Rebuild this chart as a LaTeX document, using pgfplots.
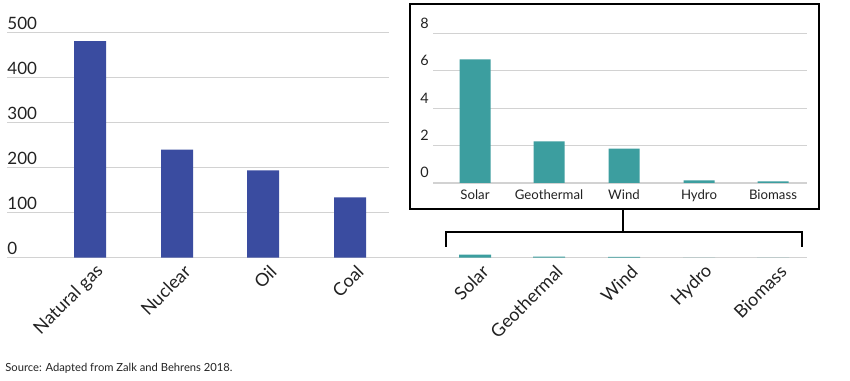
\documentclass[border=0pt]{standalone}
\usepackage{fontspec}
\setmainfont{Lato}
\usepackage{pgfplots}
\pgfplotsset{compat=1.18}
\definecolor{barblue}{HTML}{3A4CA0}
\definecolor{barteal}{HTML}{3C9E9F}
\definecolor{gridgray}{HTML}{D2D2D2}
\definecolor{txt}{HTML}{222222}
\begin{document}
\begin{tikzpicture}
\useasboundingbox (0,0) rectangle (425pt,190pt);
% ---------- main axis ----------
\begin{axis}[
  at={(3.5pt,61.15pt)}, anchor=south west,
  x=0.5pt, y=0.225pt,
  xmin=7, xmax=807, ymin=0, ymax=560,
  clip=false,
  axis line style={draw=none},
  major tick length=0,
  /pgf/number format/assume math mode=true,
  ytick={0,100,200,300,400,500},
  yticklabel style={anchor=south west, inner sep=0pt, yshift=1.5pt, font=\fontsize{8.5}{10}\selectfont, text=txt},
  xtick={90,177,263,350,475,549,624,699,773},
  xticklabels={Natural gas,Nuclear,Oil,Coal,Solar,Geothermal,Wind,Hydro,Biomass},
  xticklabel style={rotate=45, anchor=east, inner sep=0pt, xshift=0pt, yshift=-7.5pt, font=\fontsize{9}{10}\selectfont, text=txt},
]
% grid lines
\foreach \v in {100,200,300,400,500}{
  \edef\temp{\noexpand\draw[gridgray, line width=0.6pt] (axis cs:7,\v) -- (axis cs:389,\v);}
  \temp
}
\draw[gridgray, line width=0.7pt] (axis cs:7,0) -- (axis cs:807,0);
\addplot[ybar, bar width=16pt, bar shift=0pt, fill=barblue, draw=none] coordinates {(90,481) (177,240) (263,194) (350,134)};
\addplot[ybar, bar width=16pt, bar shift=0pt, fill=barteal, draw=none] coordinates {(475,6.6) (549,2.23) (624,1.83) (699,0.14) (773,0.09)};
% bracket
\draw[black, line width=1pt] (axis cs:446,24.4) -- (axis cs:446,56.4) -- (axis cs:802,56.4) -- (axis cs:802,24.4);
\draw[black, line width=1pt] (axis cs:623,56.4) -- (axis cs:623,108.2);
\end{axis}
% ---------- inset axis ----------
\begin{axis}[
  at={(205pt,85.5pt)}, anchor=south west,
  x=0.5pt, y=9.36pt,
  xmin=410, xmax=819, ymin=-1.389, ymax=9.546,
  clip=false,
  axis background/.style={fill=white},
  axis line style={line width=1.2pt, black},
  major tick length=0,
  /pgf/number format/assume math mode=true,
  ytick={0,2,4,6,8},
  yticklabel style={anchor=south west, inner sep=0pt, xshift=5pt, yshift=2.3pt, font=\fontsize{7.2}{8}\selectfont, text=txt},
  xtick={475,549,624,699,773},
  xticklabels={Solar,Geothermal,Wind,Hydro,Biomass},
  xticklabel style={anchor=north, inner sep=0pt, yshift=10pt, font=\fontsize{6.6}{8}\selectfont, text=txt},
]
\foreach \v in {2,4,6,8}{
  \edef\temp{\noexpand\draw[gridgray, line width=0.6pt] (axis cs:433,\v) -- (axis cs:807,\v);}
  \temp
}
\draw[gridgray, line width=0.7pt] (axis cs:433,0) -- (axis cs:807,0);
\addplot[ybar, bar width=15.5pt, bar shift=0pt, fill=barteal, draw=none] coordinates {(475,6.6) (549,2.23) (624,1.83) (699,0.14) (773,0.09)};
\end{axis}
\node[anchor=west, inner sep=0pt, font=\fontsize{5.6}{7}\selectfont, text=txt] at (2.5pt,6pt) {Source: Adapted from Zalk and Behrens 2018.};
\end{tikzpicture}
\end{document}
